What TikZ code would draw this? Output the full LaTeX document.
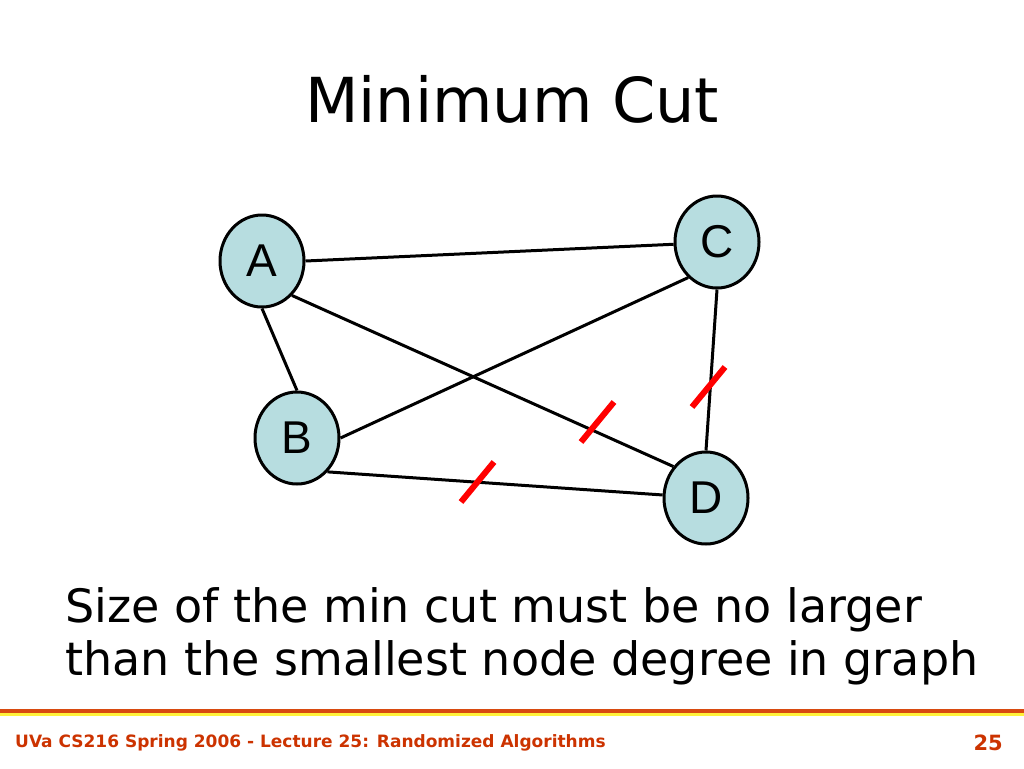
\documentclass[tikz,border=0pt]{standalone}
\usepackage{fontspec}
\setmainfont{DejaVu Sans}
\newfontfamily\nodefont{Liberation Sans}
\usetikzlibrary{shapes.geometric}
\definecolor{nodefill}{HTML}{B7DDE0}
\definecolor{footred}{HTML}{CC3300}
\definecolor{lineorange}{HTML}{D84A10}
\definecolor{lineyellow}{HTML}{FFF23A}
\tikzset{
  vertex/.style={ellipse, draw=black, line width=3pt, fill=nodefill,
    minimum width=84pt, minimum height=92pt, inner sep=0pt,
    font=\nodefont\fontsize{46}{46}\selectfont},
  edge/.style={draw=black, line width=3pt},
  cutmark/.style={draw=red, line width=6pt},
}
\begin{document}
\begin{tikzpicture}[x=1pt,y=-1pt]
\useasboundingbox[fill=white] (0,0) rectangle (1024,768);
\node[anchor=base, font=\fontsize{62}{62}\selectfont] (title) at (512,122) {Minimum Cut};
\node[vertex] (A) at (262,261) {A};
\node[vertex] (C) at (717,242) {C};
\node[vertex] (B) at (297,438) {B};
\node[vertex] (D) at (706,498) {D};
\draw[edge] (A.east) -- (C.183);
\draw[edge] (A.-49) -- (D.136);
\draw[edge] (A.south) -- (B.north);
\draw[edge] (B.east) -- (C.-129);
\draw[edge] (B.-48) -- (D.176);
\draw[edge] (C.south) -- (D.north);
\coordinate (m1a) at (461,502); \coordinate (m1b) at (494,462);
\coordinate (m2a) at (581,442); \coordinate (m2b) at (614,402);
\coordinate (m3a) at (692,407); \coordinate (m3b) at (725,367);
\draw[cutmark] (m1a) -- (m1b);
\draw[cutmark] (m2a) -- (m2b);
\draw[cutmark] (m3a) -- (m3b);
\node[anchor=base west, inner sep=0pt, font=\fontsize{46}{46}\selectfont] (line1) at (65,622) {Size of the min cut must be no larger};
\node[anchor=base west, inner sep=0pt, font=\fontsize{46}{46}\selectfont] (line2) at (65,675) {than the smallest node degree in graph};
\fill[lineorange] (0,709) rectangle (1024,713);
\fill[lineyellow] (0,713) rectangle (1024,716);
\node[anchor=base west, inner sep=0pt, text=footred, font=\bfseries\fontsize{17}{17}\selectfont] (foot) at (15,747) {UVa CS216 Spring 2006 - Lecture 25: Randomized Algorithms};
\node[anchor=base east, inner sep=0pt, text=footred, font=\bfseries\fontsize{21}{21}\selectfont] (page) at (1003,750) {25};
\end{tikzpicture}
\end{document}
